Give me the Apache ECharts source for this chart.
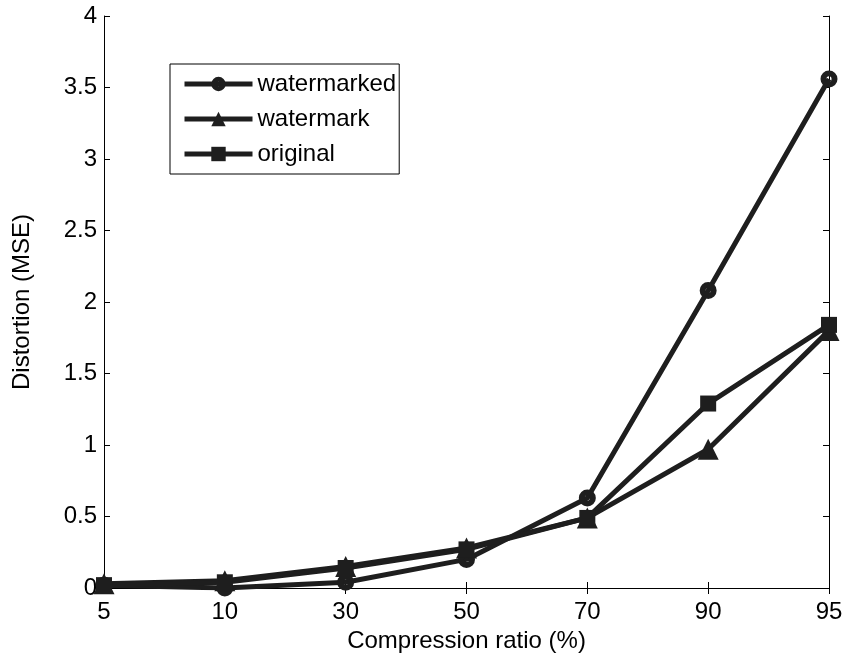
<!DOCTYPE html>
<html>
<head>
<meta charset="utf-8">
<script src="https://cdn.jsdelivr.net/npm/echarts@6/dist/echarts.min.js"></script>
<style>
  html, body { margin: 0; padding: 0; background: #fff; }
  #chart-container { width: 845px; height: 653px; }
</style>
</head>
<body>
<div id="chart-container"></div>
<script>
var ratios = ['5', '10', '30', '50', '70', '90', '95'];
var watermarked = [0.02, 0.0, 0.04, 0.2, 0.63, 2.08, 3.56];
var watermark = [0.03, 0.05, 0.15, 0.28, 0.49, 0.97, 1.8];
var original = [0.02, 0.04, 0.14, 0.27, 0.49, 1.29, 1.84];

var lineColor = '#1e1e1e';
var font = 'Liberation Sans, Arial, Helvetica, sans-serif';
// thick ring with a small white hole, like matlab's 'o' marker with a fat line
var ringPath = 'path://M0,-10A10,10 0 1,1 0,10A10,10 0 1,1 0,-10ZM0,-3A3,3 0 1,0 0,3A3,3 0 1,0 0,-3Z';

var chartDom = document.getElementById('chart-container');
var myChart = echarts.init(chartDom);

function makeSeries(name, data, symbol, size) {
    return {
        name: name,
        type: 'line',
        data: data,
        symbol: symbol,
        symbolSize: size,
        showAllSymbol: true,
        lineStyle: { color: lineColor, width: 5 },
        itemStyle: { color: lineColor, borderWidth: 0 },
        emphasis: { disabled: true },
        animation: false
    };
}

var option = {
    animation: false,
    grid: { left: 104, right: 16, top: 16, bottom: 65, outerBoundsMode: 'none', containLabel: false },
    legend: {
        orient: 'vertical',
        left: 170,
        top: 64,
        itemWidth: 68,
        itemHeight: 18,
        itemGap: 11,
        padding: [8, 3, 8, 12],
        borderColor: '#000',
        borderWidth: 1,
        backgroundColor: '#fff',
        lineStyle: { width: 5 },
        textStyle: { fontSize: 24, color: '#000', fontFamily: font },
        data: ['watermarked', 'watermark', 'original']
    },
    xAxis: [
        {
            type: 'category',
            data: ratios,
            boundaryGap: false,
            name: 'Compression ratio (%)',
            nameLocation: 'middle',
            nameGap: 38,
            nameTextStyle: { fontSize: 24, color: '#000', fontFamily: font },
            axisLine: { lineStyle: { color: '#000', width: 1 } },
            axisTick: { inside: true, length: 6, lineStyle: { color: '#000' } },
            axisLabel: { fontSize: 24, color: '#000', fontFamily: font, margin: 12 },
            splitLine: { show: false }
        },
        {
            type: 'category',
            data: ratios,
            boundaryGap: false,
            position: 'top',
            axisLine: { lineStyle: { color: '#000', width: 1 } },
            axisTick: { inside: true, length: 6, lineStyle: { color: '#000' } },
            axisLabel: { show: false },
            splitLine: { show: false }
        }
    ],
    yAxis: [
        {
            type: 'value',
            min: 0,
            max: 4,
            interval: 0.5,
            name: 'Distortion (MSE)',
            nameLocation: 'middle',
            nameGap: 70,
            nameTextStyle: { fontSize: 24, color: '#000', fontFamily: font },
            axisLine: { show: true, lineStyle: { color: '#000', width: 1 } },
            axisTick: { show: true, inside: true, length: 6, lineStyle: { color: '#000' } },
            axisLabel: { fontSize: 24, color: '#000', fontFamily: font, margin: 7 },
            splitLine: { show: false }
        },
        {
            type: 'value',
            min: 0,
            max: 4,
            interval: 0.5,
            position: 'right',
            axisLine: { show: true, lineStyle: { color: '#000', width: 1 } },
            axisTick: { show: true, inside: true, length: 6, lineStyle: { color: '#000' } },
            axisLabel: { show: false },
            splitLine: { show: false }
        }
    ],
    series: [
        makeSeries('watermarked', watermarked, ringPath, 17),
        makeSeries('watermark', watermark, 'triangle', 21),
        makeSeries('original', original, 'rect', 16)
    ]
};

myChart.setOption(option);
window.addEventListener('resize', myChart.resize);
</script>
</body>
</html>
